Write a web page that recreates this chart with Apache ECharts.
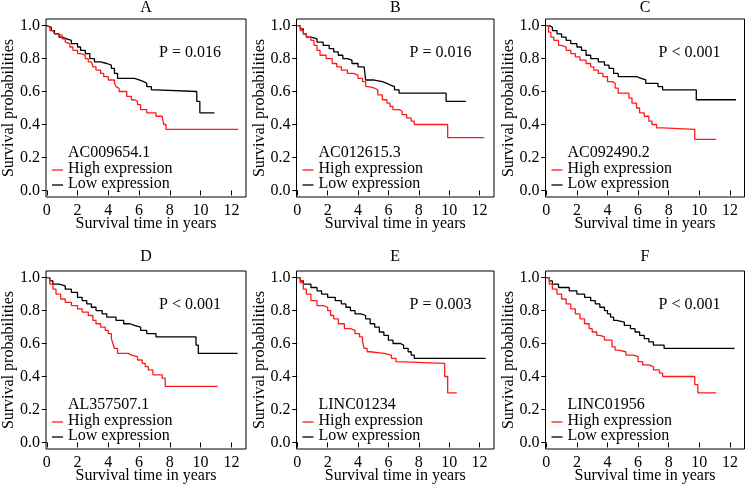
<!DOCTYPE html>
<html>
<head>
<meta charset="utf-8">
<script src="https://cdn.jsdelivr.net/npm/echarts@6/dist/echarts.min.js"></script>
<style>
  html, body { margin: 0; padding: 0; background: #fff; }
  #chart { width: 747px; height: 485px; }
</style>
</head>
<body>
<div id="chart"></div>
<script>
// Kaplan-Meier curves: [time in years, survival probability]
const highA = [[0,1],[0.1,0.99],[0.2,0.97],[0.4,0.96],[0.5,0.95],[0.7,0.94],[1.0,0.92],[1.2,0.9],[1.3,0.89],[1.5,0.87],[1.7,0.85],[2.0,0.83],[2.2,0.82],[2.5,0.8],[2.7,0.78],[2.9,0.77],[3.0,0.75],[3.2,0.73],[3.5,0.71],[3.7,0.69],[4.0,0.67],[4.4,0.65],[4.5,0.63],[4.6,0.62],[4.7,0.6],[5.2,0.57],[5.5,0.55],[5.7,0.54],[5.9,0.52],[6.1,0.49],[6.5,0.47],[7.1,0.45],[7.5,0.44],[7.6,0.4],[7.75,0.37],[12.45,0.37]];
const lowA = [[0,1],[0.1,0.99],[0.3,0.97],[0.5,0.95],[0.8,0.93],[1.0,0.92],[1.3,0.91],[1.6,0.89],[2.0,0.87],[2.2,0.85],[2.5,0.83],[2.8,0.8],[3.1,0.78],[3.5,0.77],[3.9,0.76],[4.2,0.74],[4.4,0.71],[4.6,0.68],[5.7,0.67],[6.0,0.66],[6.3,0.65],[6.5,0.63],[6.8,0.61],[7.1,0.6],[9.75,0.54],[9.95,0.47],[10.9,0.47]];

const highB = [[0,1],[0.2,0.97],[0.4,0.95],[0.6,0.93],[0.9,0.91],[1.1,0.88],[1.3,0.85],[1.5,0.82],[1.9,0.8],[2.3,0.77],[2.6,0.75],[2.9,0.73],[3.3,0.71],[3.7,0.7],[4.0,0.68],[4.3,0.66],[4.5,0.63],[4.7,0.62],[5.1,0.61],[5.3,0.58],[5.6,0.55],[5.9,0.53],[6.1,0.51],[6.3,0.49],[6.7,0.48],[6.9,0.46],[7.2,0.44],[7.5,0.42],[7.7,0.4],[9.9,0.32],[12.3,0.32]];
const lowB = [[0,1],[0.2,0.98],[0.4,0.95],[0.6,0.93],[0.9,0.92],[1.3,0.9],[1.7,0.88],[2.1,0.86],[2.4,0.84],[2.7,0.82],[3.0,0.8],[3.3,0.79],[3.6,0.77],[4.0,0.75],[4.4,0.74],[4.5,0.67],[5.0,0.66],[5.6,0.65],[5.9,0.64],[6.1,0.63],[6.4,0.61],[6.7,0.59],[9.8,0.54],[11.1,0.54]];

const highC = [[0,1],[0.15,0.96],[0.3,0.93],[0.5,0.91],[0.8,0.88],[1.0,0.87],[1.3,0.85],[1.6,0.83],[1.9,0.81],[2.2,0.79],[2.6,0.77],[2.9,0.75],[3.1,0.73],[3.4,0.71],[3.7,0.69],[4.0,0.66],[4.3,0.65],[4.5,0.62],[4.7,0.59],[5.4,0.56],[5.6,0.53],[5.9,0.5],[6.1,0.47],[6.4,0.45],[6.7,0.42],[6.9,0.4],[7.2,0.38],[7.6,0.37],[9.7,0.31],[11.1,0.31]];
const lowC = [[0,1],[0.2,0.99],[0.4,0.97],[0.7,0.95],[1.0,0.93],[1.3,0.91],[1.6,0.89],[2.0,0.87],[2.3,0.85],[2.6,0.82],[2.9,0.8],[3.4,0.78],[3.8,0.76],[4.1,0.74],[4.4,0.71],[4.7,0.69],[5.9,0.68],[6.2,0.67],[6.5,0.65],[7.3,0.63],[7.6,0.61],[9.8,0.55],[12.4,0.55]];

const highD = [[0,1],[0.2,0.96],[0.4,0.93],[0.6,0.9],[0.9,0.87],[1.2,0.85],[1.6,0.83],[2.0,0.81],[2.3,0.79],[2.7,0.77],[3.0,0.74],[3.2,0.72],[3.5,0.7],[3.8,0.68],[4.0,0.66],[4.2,0.63],[4.3,0.6],[4.4,0.57],[4.6,0.54],[5.3,0.53],[5.5,0.52],[5.9,0.5],[6.2,0.48],[6.4,0.46],[6.6,0.44],[6.9,0.41],[7.5,0.39],[7.7,0.34],[11.1,0.34]];
const lowD = [[0,1],[0.2,0.98],[0.4,0.96],[0.8,0.95],[1.2,0.93],[1.6,0.91],[2.0,0.88],[2.3,0.86],[2.6,0.84],[2.9,0.82],[3.2,0.8],[3.6,0.78],[3.9,0.76],[4.5,0.74],[5.0,0.72],[5.4,0.71],[5.7,0.7],[6.1,0.68],[6.5,0.66],[7.1,0.64],[9.7,0.59],[9.85,0.54],[12.4,0.54]];

const highE = [[0,1],[0.2,0.97],[0.4,0.93],[0.6,0.9],[0.9,0.86],[1.3,0.83],[1.7,0.82],[2.0,0.8],[2.2,0.77],[2.4,0.75],[2.7,0.72],[3.1,0.69],[3.5,0.68],[3.8,0.66],[4.1,0.64],[4.3,0.61],[4.4,0.57],[4.6,0.55],[4.8,0.54],[5.7,0.53],[6.2,0.51],[6.5,0.49],[6.6,0.48],[9.7,0.4],[9.9,0.3],[10.5,0.3]];
const lowE = [[0,1],[0.2,0.98],[0.4,0.96],[0.9,0.94],[1.3,0.92],[1.6,0.9],[2.0,0.88],[2.5,0.86],[2.9,0.84],[3.2,0.82],[3.5,0.8],[3.8,0.78],[4.2,0.77],[4.5,0.75],[4.8,0.72],[5.1,0.7],[5.4,0.67],[5.7,0.65],[6.0,0.62],[6.3,0.6],[6.8,0.59],[7.0,0.57],[7.3,0.55],[7.5,0.53],[7.7,0.51],[12.4,0.51]];

const highF = [[0,1],[0.2,0.96],[0.4,0.93],[0.7,0.9],[1.0,0.87],[1.3,0.84],[1.6,0.81],[1.9,0.78],[2.2,0.75],[2.5,0.72],[2.8,0.69],[3.0,0.67],[3.3,0.65],[3.5,0.64],[3.8,0.62],[4.3,0.58],[4.5,0.56],[4.7,0.55],[5.2,0.53],[5.7,0.52],[6.0,0.49],[6.3,0.47],[6.7,0.46],[7.0,0.44],[7.4,0.42],[7.6,0.4],[9.7,0.35],[9.9,0.3],[11.1,0.3]];
const lowF = [[0,1],[0.2,0.98],[0.4,0.96],[0.8,0.94],[1.5,0.92],[2.0,0.9],[2.5,0.88],[2.9,0.86],[3.2,0.84],[3.5,0.82],[3.8,0.8],[4.0,0.78],[4.2,0.76],[4.4,0.74],[4.6,0.73],[5.1,0.71],[5.5,0.69],[5.8,0.67],[6.1,0.65],[6.4,0.63],[6.7,0.61],[7.0,0.59],[7.7,0.57],[12.3,0.57]];

const panelLetters = ['A', 'B', 'C', 'D', 'E', 'F'];
const geneNames = ['AC009654.1', 'AC012615.3', 'AC092490.2', 'AL357507.1', 'LINC01234', 'LINC01956'];
const pValues = ['P = 0.016', 'P = 0.016', 'P < 0.001', 'P < 0.001', 'P = 0.003', 'P < 0.001'];
const highCurves = [highA, highB, highC, highD, highE, highF];
const lowCurves = [lowA, lowB, lowC, lowD, lowE, lowF];
const xTicks = [0, 2, 4, 6, 8, 10, 12];
const yTicks = [0, 0.2, 0.4, 0.6, 0.8, 1.0];

// layout of the 2 x 3 panels
const colLeft = [46, 296.5, 545.5];
const colWidth = [200, 197.5, 199];
const rowTop = [19, 271];
const plotHeight = 178;
const titleY = [8, 257];

const FONT = '"Liberation Serif", "Times New Roman", serif';
const FS = 16;
const RED = '#ff1a1a';

const chart = echarts.init(document.getElementById('chart'));

const grids = [], xAxes = [], yAxes = [], series = [], graphics = [];

panelLetters.forEach((letter, i) => {
  const col = i % 3, row = Math.floor(i / 3);
  const L = colLeft[col], W = colWidth[col], T = rowTop[row], B = T + plotHeight;

  grids.push({
    left: L, top: T, width: W, height: plotHeight,
    show: true, borderColor: '#000', borderWidth: 1, backgroundColor: 'transparent',
    containLabel: false, outerBoundsMode: 'none'
  });

  xAxes.push({
    type: 'value', gridIndex: i, min: -0.05, max: 12.95,
    name: 'Survival time in years', nameLocation: 'middle', nameGap: 19, nameMoveOverlap: false,
    nameTextStyle: { fontFamily: FONT, fontSize: FS, color: '#000' },
    axisLine: { show: false },
    axisTick: { show: true, length: 5, lineStyle: { color: '#000' }, customValues: xTicks },
    axisLabel: { fontFamily: FONT, fontSize: FS, color: '#000', margin: 6, customValues: xTicks },
    splitLine: { show: false }
  });

  yAxes.push({
    type: 'value', gridIndex: i, min: -0.04, max: 1.04,
    name: 'Survival probabilities', nameLocation: 'middle', nameGap: 29, nameMoveOverlap: false,
    nameTextStyle: { fontFamily: FONT, fontSize: FS, color: '#000' },
    axisLine: { show: false },
    axisTick: { show: true, length: 5, lineStyle: { color: '#000' }, customValues: yTicks },
    axisLabel: {
      fontFamily: FONT, fontSize: FS, color: '#000', margin: 6, customValues: yTicks,
      formatter: (v) => v.toFixed(1)
    },
    splitLine: { show: false }
  });

  series.push({
    name: 'High expression', type: 'line', step: 'end',
    xAxisIndex: i, yAxisIndex: i, data: highCurves[i],
    symbol: 'none', lineStyle: { color: RED, width: 1.3 }, color: RED, z: 3
  });
  series.push({
    name: 'Low expression', type: 'line', step: 'end',
    xAxisIndex: i, yAxisIndex: i, data: lowCurves[i],
    symbol: 'none', lineStyle: { color: '#000', width: 1.3 }, color: '#000', z: 2
  });

  const txt = (x, y, text, align) => ({
    type: 'text', x: x, y: y, silent: true,
    style: { text: text, fontFamily: FONT, fontSize: FS, fill: '#000', align: align || 'left', verticalAlign: 'middle' }
  });

  graphics.push(txt(L + W / 2, titleY[row], letter, 'center'));
  graphics.push(txt(L + 113, T + 34, pValues[i]));
  graphics.push(txt(L + 22, B - 44, geneNames[i]));
  graphics.push({ type: 'line', silent: true, shape: { x1: L + 6, y1: B - 27, x2: L + 17, y2: B - 27 }, style: { stroke: RED, lineWidth: 1.3 } });
  graphics.push(txt(L + 22, B - 28, 'High expression'));
  graphics.push({ type: 'line', silent: true, shape: { x1: L + 6, y1: B - 12, x2: L + 17, y2: B - 12 }, style: { stroke: '#000', lineWidth: 1.3 } });
  graphics.push(txt(L + 22, B - 13, 'Low expression'));
});

chart.setOption({
  animation: false,
  backgroundColor: '#fff',
  grid: grids,
  xAxis: xAxes,
  yAxis: yAxes,
  series: series,
  graphic: graphics
});
</script>
</body>
</html>
